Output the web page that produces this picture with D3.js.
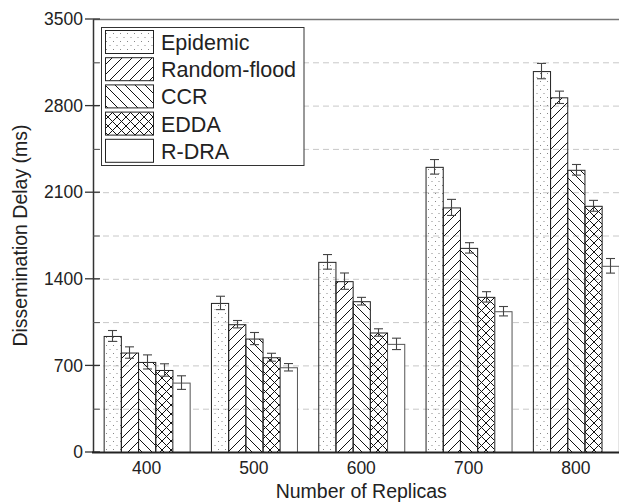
<!DOCTYPE html>
<html><head><meta charset="utf-8">
<script src="https://cdn.jsdelivr.net/npm/d3@7"></script>
<style>body{margin:0;background:#fff;overflow:hidden} svg{display:block}</style>
</head><body><svg id="c" width="619" height="503"></svg>
<script>
const categories = ["400","500","600","700","800"];
const seriesNames = ["Epidemic","Random-flood","CCR","EDDA","R-DRA"];
const epidemic    = [938, 1205, 1537, 2305, 3079];
const randomFlood = [804, 1033, 1381, 1977, 2867];
const ccr         = [728,  917, 1219, 1650, 2281];
const edda        = [663,  766,  966, 1254, 1990];
const rdra        = [561,  685,  874, 1138, 1505];
const epidemicErr    = [44, 54, 59, 59, 62];
const randomFloodErr = [46, 30, 66, 65, 50];
const ccrErr         = [57, 49, 31, 42, 43];
const eddaErr        = [50, 32, 30, 42, 44];
const rdraErr        = [55, 30, 46, 38, 59];
const yTicks = [0, 700, 1400, 2100, 2800, 3500];
const yMinorTicks = [350, 1050, 1750, 2450, 3150];

const values = [epidemic, randomFlood, ccr, edda, rdra];
const errs = [epidemicErr, randomFloodErr, ccrErr, eddaErr, rdraErr];
const patternIds = ["pDots","pFwd","pBack","pCross","pNone"];

const svg = d3.select("#c");
const font = "'Liberation Sans', Arial, sans-serif";
const pLeft = 93, pTop = 19, pBottom = 452, rightRange = 629.5, W = 619;

const x0 = d3.scaleBand().domain(categories).range([pLeft, rightRange]).paddingInner(0.1985).paddingOuter(0.09925);
const x1 = d3.scaleBand().domain(seriesNames).range([0, x0.bandwidth()]).padding(0);
const y = d3.scaleLinear().domain([0, 3500]).range([pBottom, pTop]);

// patterns
const defs = svg.append("defs");
const pd = defs.append("pattern").attr("id","pDots").attr("patternUnits","userSpaceOnUse").attr("width",7).attr("height",8);
pd.append("rect").attr("x",1).attr("y",1).attr("width",1).attr("height",1).attr("fill","#888");
pd.append("rect").attr("x",4.5).attr("y",5).attr("width",1).attr("height",1).attr("fill","#888");
const pf = defs.append("pattern").attr("id","pFwd").attr("patternUnits","userSpaceOnUse").attr("width",10).attr("height",10);
pf.append("path").attr("d","M-2,2 L2,-2 M0,10 L10,0 M8,12 L12,8").attr("stroke","#111").attr("stroke-width",1);
const pb = defs.append("pattern").attr("id","pBack").attr("patternUnits","userSpaceOnUse").attr("width",10).attr("height",10);
pb.append("path").attr("d","M-2,8 L2,12 M0,0 L10,10 M8,-2 L12,2").attr("stroke","#111").attr("stroke-width",1);
const pc = defs.append("pattern").attr("id","pCross").attr("patternUnits","userSpaceOnUse").attr("width",9).attr("height",9);
pc.append("path").attr("d","M-2,2 L2,-2 M0,9 L9,0 M7,11 L11,7 M-2,7 L2,11 M0,0 L9,9 M7,-2 L11,2").attr("stroke","#111").attr("stroke-width",1);

// gridlines
svg.append("g").selectAll("line").data(yTicks.slice(1,-1).concat(yMinorTicks)).join("line")
  .attr("x1", pLeft).attr("x2", W).attr("y1", d=>y(d)+0.5).attr("y2", d=>y(d)+0.5)
  .attr("stroke","#c8c8c8").attr("stroke-width",1).attr("stroke-dasharray","6,4");

// bars
const rows = [];
categories.forEach((c,i)=>seriesNames.forEach((s,j)=>rows.push({c, s, j, v: values[j][i], e: errs[j][i]})));
const g = svg.append("g");
g.selectAll("rect").data(rows).join("rect")
  .attr("x", d=>x0(d.c)+x1(d.s)+0.5)
  .attr("y", d=>y(d.v)+0.5)
  .attr("width", x1.bandwidth())
  .attr("height", d=>pBottom - y(d.v))
  .attr("fill", d=> d.j===4 ? "#fff" : `url(#${patternIds[d.j]})`)
  .attr("stroke", d=> d.j===4 ? "#555" : "#222").attr("stroke-width",1);

// error bars
const eb = svg.append("g").attr("stroke","#444").attr("stroke-width",1.1);
rows.forEach(d=>{
  const cx = Math.round(x0(d.c)+x1(d.s)+x1.bandwidth()/2)+0.5;
  eb.append("line").attr("x1",cx).attr("x2",cx).attr("y1",y(d.v+d.e)).attr("y2",y(d.v-d.e));
  eb.append("line").attr("x1",cx-4.5).attr("x2",cx+4.5).attr("y1",y(d.v+d.e)).attr("y2",y(d.v+d.e));
  eb.append("line").attr("x1",cx-4.5).attr("x2",cx+4.5).attr("y1",y(d.v-d.e)).attr("y2",y(d.v-d.e));
});

// frame: top line
svg.append("line").attr("x1",pLeft).attr("x2",W).attr("y1",pTop+0.5).attr("y2",pTop+0.5).attr("stroke","#777").attr("stroke-width",1.5);

// y axis
const yAxis = d3.axisLeft(y).tickValues(yTicks).tickFormat(d3.format("d")).tickSize(0).tickPadding(10);
const ya = svg.append("g").attr("transform",`translate(${pLeft},0)`).call(yAxis);
ya.select(".domain").attr("stroke","#333").attr("stroke-width",1.5);
ya.selectAll("text").attr("font-family",font).attr("font-size","17.5px").attr("fill","#222");
svg.append("g").selectAll("line").data(yTicks).join("line")
  .attr("x1",pLeft-8).attr("x2",pLeft+7).attr("y1",d=>y(d)).attr("y2",d=>y(d)).attr("stroke","#333").attr("stroke-width",1.3);
svg.append("g").selectAll("line").data(yMinorTicks).join("line")
  .attr("x1",pLeft).attr("x2",pLeft+7).attr("y1",d=>y(d)+0.5).attr("y2",d=>y(d)+0.5).attr("stroke","#555").attr("stroke-width",1);

// x axis
const xAxis = d3.axisBottom(x0).tickSize(0).tickPadding(9);
const xa = svg.append("g").attr("transform",`translate(0,${pBottom})`).call(xAxis);
xa.select(".domain").remove();
svg.append("line").attr("x1",pLeft-1).attr("x2",W).attr("y1",pBottom+0.5).attr("y2",pBottom+0.5).attr("stroke","#222").attr("stroke-width",2.2);
xa.selectAll("text").attr("font-family",font).attr("font-size","17.5px").attr("fill","#222").attr("dy","0.75em");

// axis titles
svg.append("text").attr("x",(pLeft+rightRange)/2).attr("y",498).attr("text-anchor","middle")
  .attr("font-family",font).attr("font-size","19.5px").attr("fill","#222").text("Number of Replicas");
svg.append("text").attr("transform",`translate(27,${(pTop+pBottom)/2}) rotate(-90)`).attr("text-anchor","middle")
  .attr("font-family",font).attr("font-size","19.5px").attr("fill","#222").text("Dissemination Delay (ms)");

// legend
const lg = svg.append("g");
lg.append("rect").attr("x",101.5).attr("y",27.5).attr("width",202.5).attr("height",138).attr("fill","#fff").attr("stroke","#333").attr("stroke-width",1);
seriesNames.forEach((s,j)=>{
  const yy = 30.5 + j*27.2;
  lg.append("rect").attr("x",105.5).attr("y",yy).attr("width",48).attr("height",23)
    .attr("fill", j===4 ? "#fff" : `url(#${patternIds[j]})`).attr("stroke","#222").attr("stroke-width",1);
  lg.append("text").attr("x",161).attr("y",yy+19.5).attr("font-family",font).attr("font-size","21.5px").attr("fill","#222").text(s);
});
</script></body></html>
